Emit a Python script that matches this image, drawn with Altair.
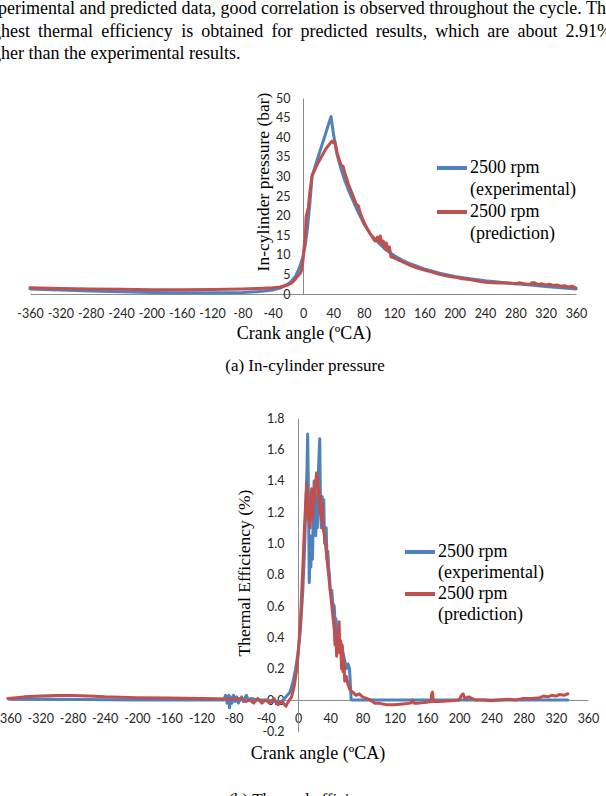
import altair as alt
import pandas as pd

# ---------------- data ----------------
# (a) In-cylinder pressure (bar) vs crank angle
p_exp_angle = [-360, -320, -280, -240, -200, -160, -120, -80, -60, -40, -30, -20, -15, -10, -5,
               0, 3, 6, 9, 12, 20, 30, 37, 40, 45, 50, 55, 60, 70, 80, 90, 100, 110, 120, 130, 140,
               160, 180, 200, 220, 240, 260, 280, 300, 320, 340, 360]
p_exp_val = [1.3, 1.0, 0.75, 0.55, 0.4, 0.3, 0.3, 0.4, 0.6, 1.0, 1.5, 2.5, 3.3, 4.5, 6.5,
             9.5, 12.5, 17, 23, 30, 35, 41, 45.3, 41, 35.5, 32, 29, 26.5, 22, 18, 15, 13, 11.2, 9.8, 8.7, 7.8,
             6.4, 5.3, 4.5, 3.9, 3.4, 3.0, 2.6, 2.3, 1.9, 1.6, 1.3]

p_pred_angle = [-360, -320, -280, -240, -200, -160, -120, -80, -60, -40,
                -30, -20, -15, -10, -7, -4, -2, 0, 1, 2,
                3, 4, 5, 7, 9, 12, 20, 30, 38, 40,
                42, 45, 50, 53, 55, 60, 65, 70, 73, 75,
                80, 85, 90, 95, 98, 100, 102, 104, 106, 108,
                110, 112, 114, 116, 120, 130, 140, 150, 160, 170,
                180, 190, 200, 210, 220, 230, 240, 250, 260, 270,
                280, 285, 290, 295, 300, 302, 305, 310, 315, 320,
                325, 330, 335, 340, 345, 350, 355, 360]
p_pred_val = [1.6, 1.4, 1.3, 1.2, 1.1, 1.1, 1.15, 1.3, 1.4, 1.6,
              1.8, 2.3, 2.8, 3.8, 4.5, 5.2, 6.0, 8.5, 11, 13,
              14, 19.5, 20.5, 22, 26, 30.3, 33.5, 37, 39, 38.6,
              38.8, 36, 33, 32.5, 31, 28, 25.5, 23, 22.5, 21,
              18.5, 16.5, 15, 13.5, 14.5, 13.3, 14.8, 12.8, 13.5, 11.5,
              13, 11.2, 12, 9.5, 9.2, 8.3, 7.4, 6.7, 6.1, 5.6,
              5.0, 4.6, 4.3, 3.9, 3.7, 3.3, 3.0, 2.9, 2.8, 2.8,
              2.6, 2.9, 2.7, 2.5, 2.5, 2.9, 2.9, 2.4, 2.6, 2.3,
              2.5, 2.2, 2.3, 2.0, 2.1, 1.8, 2.0, 1.5]

# (b) Thermal efficiency (%) vs crank angle
te_exp_angle = [-360, -300, -200, -100, -92, -90, -88, -86, -85, -84,
                -82, -80, -78, -76, -74, -72, -70, -68, -66, -64,
                -62, -58, -50, -40, -30, -20, -15, -10, -6, -3,
                0, 3, 6, 8, 10, 11, 12, 13, 14, 15,
                16, 17, 18, 19, 20, 21, 22, 23, 24, 25,
                26, 27, 28, 29, 30, 31, 32, 33, 34, 35,
                36, 37, 38, 39, 40, 42, 43, 45, 46, 47,
                48, 50, 52, 54, 56, 58, 60, 62, 64, 65,
                66, 100, 200, 335]
te_exp_val = [0.01, 0.005, 0.0, 0.0, 0.0, 0.03, -0.02, 0.03, -0.05, 0.02,
              -0.02, 0.03, -0.01, 0.02, -0.02, 0.0, 0.02, -0.01, 0.01, 0.03,
              0.0, 0.01, 0.0, 0.0, -0.01, -0.01, 0.02, 0.05, 0.12, 0.2,
              0.3, 0.45, 0.7, 0.95, 1.3, 1.45, 1.7, 1.3, 0.75, 0.95,
              0.85, 1.05, 0.9, 1.2, 1.4, 1.3, 1.05, 1.2, 1.1, 1.4,
              1.55, 1.67, 1.2, 1.1, 1.3, 1.1, 1.28, 1.0, 1.05, 1.1,
              0.9, 0.95, 0.85, 0.8, 0.7, 0.7, 0.62, 0.6, 0.5, 0.52,
              0.42, 0.4, 0.38, 0.35, 0.3, 0.25, 0.2, 0.23, 0.2, 0.1,
              0.0, 0.0, 0.0, 0.0]

te_pred_angle = [-360, -340, -320, -300, -280, -260, -240, -200, -160, -120,
                 -100, -80, -70, -65, -60, -55, -50, -45, -40, -35,
                 -30, -25, -20, -15, -12, -8, -5, -2, 0, 3,
                 6, 8, 10, 11, 12, 13, 14, 15, 16, 17,
                 18, 19, 20, 21, 22, 23, 24, 25, 26, 27,
                 28, 29, 30, 31, 33, 35, 37, 39, 41, 43,
                 45, 46, 47, 48, 49, 50, 51, 52, 53, 54,
                 55, 56, 57, 58, 60, 62, 65, 68, 72, 76,
                 80, 85, 90, 95, 100, 110, 120, 130, 140, 142,
                 144, 150, 160, 165, 166, 167, 168, 175, 190, 200,
                 203, 205, 207, 212, 220, 230, 240, 250, 260, 270,
                 280, 290, 300, 305, 310, 315, 320, 325, 330, 335]
te_pred_val = [0.01, 0.02, 0.025, 0.028, 0.028, 0.025, 0.02, 0.015, 0.012, 0.01,
               0.008, 0.005, 0.01, -0.01, 0.0, -0.02, 0.01, -0.02, 0.0, -0.02,
               0.01, -0.03, -0.01, -0.04, -0.01, 0.02, 0.08, 0.18, 0.28, 0.5,
               0.85, 1.1, 1.3, 1.38, 1.3, 1.15, 1.2, 1.1, 1.25, 1.35,
               1.15, 1.3, 1.25, 1.4, 1.38, 1.45, 1.42, 1.3, 1.35, 1.2,
               1.3, 1.15, 1.25, 1.1, 1.05, 0.95, 0.85, 0.75, 0.65, 0.55,
               0.45, 0.35, 0.4, 0.28, 0.35, 0.45, 0.5, 0.3, 0.38, 0.2,
               0.35, 0.18, 0.25, 0.12, 0.15, 0.1, 0.06, 0.05, 0.03, 0.04,
               0.02, 0.01, 0.0, -0.02, -0.02, -0.03, -0.03, -0.025, -0.02, 0.0,
               -0.02, -0.02, -0.015, -0.01, 0.04, 0.05, -0.01, -0.01, -0.005, 0.0,
               0.03, 0.04, 0.01, 0.02, 0.0, 0.0, -0.005, 0.0, 0.005, 0.0,
               0.01, 0.01, 0.015, 0.025, 0.02, 0.03, 0.025, 0.035, 0.03, 0.04]

x_ticks = list(range(-360, 361, 40))
p_ticks = list(range(0, 51, 5))
te_ticks = [round(-0.2 + 0.2 * i, 1) for i in range(11)]

legend_top = "2500 rpm"
legend_exp = "(experimental)"
legend_pred = "(prediction)"

para_line1 = "experimental and predicted data, good correlation is observed throughout the cycle. The"
para_line2 = ["highest", "thermal", "efficiency", "is", "obtained", "for", "predicted",
              "results,", "which", "are", "about", "2.91%"]
para_line3 = "higher than the experimental results."

# ---------------- style ----------------
W, H = 606, 796
SERIF = "Liberation Serif"
SANS = "Lato"
BLUE = "#4F81BD"
RED = "#C0504D"
AXC = "#8C8C8C"
LAB = "#262626"
MINUS = "\u2212"

# Times-metric advance widths (per 1000 em) to lay out the justified line
TIMES = {'a': 444, 'b': 500, 'c': 444, 'd': 500, 'e': 444, 'f': 333, 'g': 500, 'h': 500,
         'i': 278, 'j': 278, 'k': 500, 'l': 278, 'm': 778, 'n': 500, 'o': 500, 'p': 500,
         'q': 500, 'r': 333, 's': 389, 't': 278, 'u': 500, 'v': 500, 'w': 722, 'x': 500,
         'y': 500, 'z': 444, ' ': 250, ',': 250, '.': 250, '%': 833, 'T': 611}


def tw(s, size):
    return sum(TIMES.get(c, 500) for c in s) * size / 1000.0


FS = 18
rows = [dict(t=para_line1, x=-2 - tw("ex", FS), y=14)]
x0 = 1 - tw("hig", FS)
x_end = 612
widths = [tw(w, FS) for w in para_line2]
gap = (x_end - x0 - sum(widths)) / (len(para_line2) - 1)
cx = x0
for w, wd in zip(para_line2, widths):
    rows.append(dict(t=w, x=cx, y=37))
    cx += wd + gap
rows.append(dict(t=para_line3, x=1 - tw("hig", FS), y=59))
para = alt.Chart(pd.DataFrame(rows)).mark_text(
    align="left", baseline="alphabetic", font=SERIF, fontSize=FS, color="black"
).encode(
    x=alt.X("x:Q", scale=None, axis=None),
    y=alt.Y("y:Q", scale=None, axis=None),
    text="t:N",
)


def label(t, x, y, size=18, angle=0, align="center", baseline="middle", font=SERIF, color="black"):
    kw = dict(align=align, baseline=baseline, font=font, fontSize=size, color=color)
    if angle:
        kw["angle"] = angle
    return alt.Chart(pd.DataFrame({"t": [t]})).mark_text(**kw).encode(
        x=alt.value(x), y=alt.value(y), text="t:N")


def seg(color, xa, xb, y):
    return alt.Chart(pd.DataFrame({"a": [0]})).mark_rule(color=color, strokeWidth=4).encode(
        x=alt.value(xa), x2=alt.value(xb), y=alt.value(y))


def xaxis(offset, pad):
    return alt.Axis(values=x_ticks, orient="bottom", offset=offset, title=None, grid=False,
                    ticks=False, domainColor=AXC, domainWidth=1, labelFont=SANS,
                    labelFontSize=12.5, labelColor=LAB, labelPadding=pad,
                    labelOverlap=False, labelFlush=False,
                    labelExpr="'' + datum.value")


def yaxis(values, offset, pad, fmt):
    return alt.Axis(values=values, orient="left", offset=offset, title=None, grid=False,
                    ticks=False, domainColor=AXC, domainWidth=1, labelFont=SANS,
                    labelFontSize=12.5, labelColor=LAB, labelPadding=pad,
                    labelOverlap=False, labelFlush=False,
                    labelExpr="replace(format(datum.value, '" + fmt + "'), '" + MINUS + "', '-')")


# ---------------- chart (a) ----------------
Y0_A = 294
df_pe = pd.DataFrame({"angle": p_exp_angle, "value": p_exp_val})
df_pp = pd.DataFrame({"angle": p_pred_angle, "value": p_pred_val})
xa = alt.X("angle:Q", scale=alt.Scale(domain=[-360, 360], range=[30, 576], nice=False, zero=False),
           axis=xaxis(-(H - Y0_A), 13))
ya = alt.Y("value:Q", scale=alt.Scale(domain=[0, 50], range=[Y0_A, 98], nice=False, zero=False),
           axis=yaxis(p_ticks, -303, 13, "d"))
line_kw = dict(strokeWidth=3, strokeJoin="round", strokeCap="round")
chart_a = alt.layer(
    alt.Chart(df_pe).mark_line(color=BLUE, **line_kw).encode(x=xa, y=ya),
    alt.Chart(df_pp).mark_line(color=RED, **line_kw).encode(x=xa, y=ya),
)

# ---------------- chart (b) ----------------
Y0_B = 700
df_te = pd.DataFrame({"angle": te_exp_angle, "value": te_exp_val})
df_tp = pd.DataFrame({"angle": te_pred_angle, "value": te_pred_val})
xb = alt.X("angle:Q", scale=alt.Scale(domain=[-360, 360], range=[8, 588], nice=False, zero=False),
           axis=xaxis(-(H - Y0_B), 12))
yb = alt.Y("value:Q", scale=alt.Scale(domain=[-0.2, 1.8], range=[731.3, 418.3], nice=False, zero=False),
           axis=yaxis(te_ticks, -298, 14, ".1f"))
chart_b = alt.layer(
    alt.Chart(df_te).mark_line(color=BLUE, **line_kw).encode(x=xb, y=yb),
    alt.Chart(df_tp).mark_line(color=RED, **line_kw).encode(x=xb, y=yb),
)

# ---------------- texts ----------------
texts = [
    para,
    label("In-cylinder pressure (bar)", 264, 182, size=17.5, angle=270),
    label("Crank angle (ºCA)", 304, 334),
    label("(a) In-cylinder pressure", 305, 366, size=17),
    seg(BLUE, 437, 467, 168), label(legend_top, 470, 168, align="left"),
    label(legend_exp, 470, 190, align="left"),
    seg(RED, 437, 467, 212), label(legend_top, 470, 212, align="left"),
    label(legend_pred, 470, 234, align="left"),
    label("Thermal Efficiency (%)", 245, 573, size=17.5, angle=270),
    label("Crank angle (ºCA)", 318, 754),
    label("(b) Thermal efficiency", 305, 805, size=17, baseline="alphabetic"),
    seg(BLUE, 405, 435, 552), label(legend_top, 438, 552, align="left"),
    label(legend_exp, 438, 573, align="left"),
    seg(RED, 405, 435, 594), label(legend_top, 438, 594, align="left"),
    label(legend_pred, 438, 615, align="left"),
]

chart = alt.layer(chart_a, chart_b, *texts).resolve_scale(
    x="independent", y="independent"
).properties(
    width=W, height=H, autosize=alt.AutoSizeParams(type="none"), padding=0, background="white"
).configure_view(stroke=None)

chart.save("out.html", embed_options={"renderer": "svg", "actions": False})
